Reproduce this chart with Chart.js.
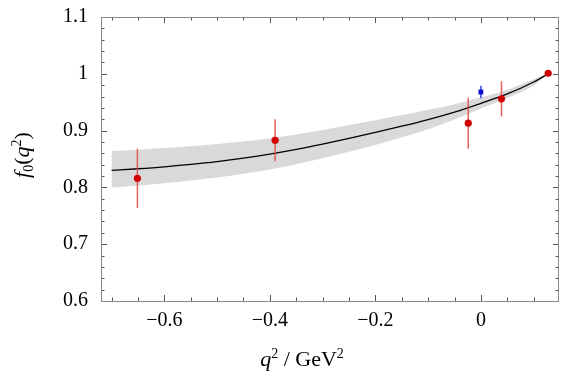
<!DOCTYPE html>
<html>
<head>
<meta charset="utf-8">
<script src="https://cdn.jsdelivr.net/npm/chart.js@4.4.0/dist/chart.umd.min.js"></script>
<style>
  html, body { margin: 0; padding: 0; background: #fff; }
</style>
</head>
<body>
<canvas id="formFactor" width="581" height="374"></canvas>
<script>
// fit curve and its error band
const curveX = [-0.70, -0.65, -0.60, -0.55, -0.50, -0.45, -0.40, -0.35, -0.30, -0.25,
                -0.20, -0.15, -0.10, -0.05, 0.00, 0.05, 0.10, 0.1275];
const curveY = [0.830, 0.8328, 0.8362, 0.8405, 0.8455, 0.8515, 0.8585, 0.8668, 0.8762, 0.8863,
                0.8968, 0.9078, 0.9195, 0.9325, 0.948, 0.9645, 0.9855, 1.000];
const bandHi = [0.864, 0.8663, 0.8692, 0.8725, 0.8765, 0.881, 0.8865, 0.8933, 0.9012, 0.9098,
                0.9183, 0.9273, 0.9365, 0.9465, 0.9585, 0.972, 0.9905, 1.000];
const bandLo = [0.800, 0.8033, 0.8072, 0.812, 0.8175, 0.824, 0.8315, 0.8408, 0.8512, 0.8628,
                0.8748, 0.8883, 0.9025, 0.9195, 0.939, 0.9575, 0.9795, 1.000];

// lattice points (red) and q^2 = 0 point (blue)
const latX   = [-0.651, -0.390, -0.024, 0.039, 0.1275];
const latY   = [0.816, 0.883, 0.913, 0.956, 1.001];
const latErr = [0.052, 0.037, 0.045, 0.031, 0];
const expX   = [0.0];
const expY   = [0.968];
const expErr = [0.011];

// axes
const xMin = -0.72, xMax = 0.148;
const yMin = 0.6, yMax = 1.1;
const xTicks = [-0.6, -0.4, -0.2, 0];
const yTicks = [0.6, 0.7, 0.8, 0.9, 1, 1.1];
const xMinor = [-0.7, -0.65, -0.55, -0.5, -0.45, -0.35, -0.3, -0.25, -0.15, -0.1, -0.05, 0.05, 0.1];
const yMinor = [0.62, 0.64, 0.66, 0.68, 0.72, 0.74, 0.76, 0.78, 0.82, 0.84, 0.86, 0.88,
                0.92, 0.94, 0.96, 0.98, 1.02, 1.04, 1.06, 1.08];

const pts = (xs, ys) => xs.map((x, i) => ({ x: x, y: ys[i] }));
const fmt = v => (v < 0 ? '\u2212' + Math.abs(v) : String(v));

// error bars drawn just before the marker datasets
const errorBars = {
  id: 'errorBars',
  beforeDatasetDraw(chart, args) {
    const ds = chart.data.datasets[args.index];
    if (!ds.errors) return;
    const { ctx, scales: { x, y } } = chart;
    ctx.save();
    ctx.strokeStyle = ds.errColor;
    ctx.lineWidth = 1.5;
    ds.data.forEach((p, i) => {
      const e = ds.errors[i];
      if (!e) return;
      const px = x.getPixelForValue(p.x);
      ctx.beginPath();
      ctx.moveTo(px, y.getPixelForValue(p.y - e));
      ctx.lineTo(px, y.getPixelForValue(p.y + e));
      ctx.stroke();
    });
    ctx.restore();
  }
};

// Mathematica-like frame with inward ticks on all four sides
const frameTicks = {
  id: 'frameTicks',
  afterDatasetsDraw(chart) {
    const { ctx, chartArea: a, scales: { x, y } } = chart;
    ctx.save();
    ctx.lineWidth = 1;
    ctx.strokeStyle = '#555';
    ctx.beginPath();
    const xt = (v, len) => {
      const px = Math.round(x.getPixelForValue(v)) + 0.5;
      ctx.moveTo(px, a.bottom); ctx.lineTo(px, a.bottom - len);
      ctx.moveTo(px, a.top); ctx.lineTo(px, a.top + len);
    };
    const yt = (v, len) => {
      const py = Math.round(y.getPixelForValue(v)) + 0.5;
      ctx.moveTo(a.left, py); ctx.lineTo(a.left + len, py);
      ctx.moveTo(a.right, py); ctx.lineTo(a.right - len, py);
    };
    xTicks.forEach(v => xt(v, 6));
    xMinor.forEach(v => xt(v, 3.5));
    yTicks.forEach(v => yt(v, 6));
    yMinor.forEach(v => yt(v, 3.5));
    ctx.stroke();
    ctx.strokeStyle = '#888';
    ctx.strokeRect(Math.round(a.left) + 0.5, Math.round(a.top) + 0.5,
                   Math.round(a.right - a.left) - 1, Math.round(a.bottom - a.top));
    ctx.restore();
  }
};

// axis titles with italic / sub / superscript pieces
function drawParts(ctx, parts, size, cx, base) {
  const fontOf = p => {
    const s = p.sub || p.sup ? Math.round(size * 0.65) : size;
    return (p.it ? 'italic ' : '') + s + 'px "Liberation Serif"';
  };
  let w = 0;
  parts.forEach(p => { ctx.font = fontOf(p); w += ctx.measureText(p.t).width; });
  let xx = cx - w / 2;
  parts.forEach(p => {
    ctx.font = fontOf(p);
    const dy = p.sup ? -size * 0.38 : p.sub ? size * 0.2 : 0;
    ctx.fillText(p.t, xx, base + dy);
    xx += ctx.measureText(p.t).width;
  });
}

const axisTitles = {
  id: 'axisTitles',
  afterDraw(chart) {
    const ctx = chart.ctx;
    ctx.save();
    ctx.fillStyle = '#000';
    ctx.textBaseline = 'alphabetic';
    ctx.textAlign = 'left';
    drawParts(ctx, [{ t: 'q', it: true }, { t: '2', sup: true }, { t: ' / GeV' }, { t: '2', sup: true }],
              22, 302, 366);
    ctx.translate(29, 155);
    ctx.rotate(-Math.PI / 2);
    drawParts(ctx, [{ t: 'f', it: true }, { t: '0', sub: true }, { t: '(' }, { t: 'q', it: true },
                    { t: '2', sup: true }, { t: ')' }], 22, 0, 0);
    ctx.restore();
  }
};

const tickFont = { family: '"Liberation Serif", serif', size: 20 };

new Chart(document.getElementById('formFactor'), {
  type: 'line',
  data: {
    datasets: [
      {
        label: 'lattice',
        data: pts(latX, latY),
        errors: latErr,
        errColor: 'rgba(224, 70, 70, 0.85)',
        showLine: false,
        pointRadius: 3.6,
        pointBackgroundColor: '#d00000',
        pointBorderWidth: 0,
        order: 0
      },
      {
        label: 'q2 = 0',
        data: pts(expX, expY),
        errors: expErr,
        errColor: '#3344dd',
        showLine: false,
        pointStyle: 'rect',
        pointRadius: 3.4,
        pointBackgroundColor: '#0a0ad0',
        pointBorderWidth: 0,
        order: 0
      },
      {
        label: 'fit',
        data: pts(curveX, curveY),
        borderColor: '#000',
        borderWidth: 1.3,
        pointRadius: 0,
        cubicInterpolationMode: 'monotone',
        fill: false,
        order: 1
      },
      {
        label: 'band upper',
        data: pts(curveX, bandHi),
        borderWidth: 0,
        borderColor: 'rgba(0,0,0,0)',
        backgroundColor: '#d9d9d9',
        pointRadius: 0,
        cubicInterpolationMode: 'monotone',
        fill: '+1',
        order: 2
      },
      {
        label: 'band lower',
        data: pts(curveX, bandLo),
        borderWidth: 0,
        borderColor: 'rgba(0,0,0,0)',
        pointRadius: 0,
        cubicInterpolationMode: 'monotone',
        fill: false,
        order: 3
      }
    ]
  },
  options: {
    responsive: false,
    animation: false,
    layout: { padding: { top: 17, right: 22, left: 0, bottom: 0 } },
    plugins: { legend: { display: false }, tooltip: { enabled: false } },
    scales: {
      x: {
        type: 'linear',
        min: xMin,
        max: xMax,
        grid: { display: false, drawTicks: false },
        border: { display: false },
        afterBuildTicks: s => { s.ticks = xTicks.map(v => ({ value: v })); },
        afterFit: s => { s.height = 73; s.paddingLeft = 0; s.paddingRight = 0; },
        ticks: { color: '#000', font: tickFont, padding: 8, maxRotation: 0, callback: v => fmt(v) }
      },
      y: {
        type: 'linear',
        min: yMin,
        max: yMax,
        grid: { display: false, drawTicks: false },
        border: { display: false },
        afterBuildTicks: s => { s.ticks = yTicks.map(v => ({ value: v })); },
        afterFit: s => { s.width = 101; s.paddingTop = 0; s.paddingBottom = 0; },
        ticks: { color: '#000', font: tickFont, padding: 13, callback: v => fmt(v) }
      }
    }
  },
  plugins: [errorBars, frameTicks, axisTitles]
});
</script>
</body>
</html>
